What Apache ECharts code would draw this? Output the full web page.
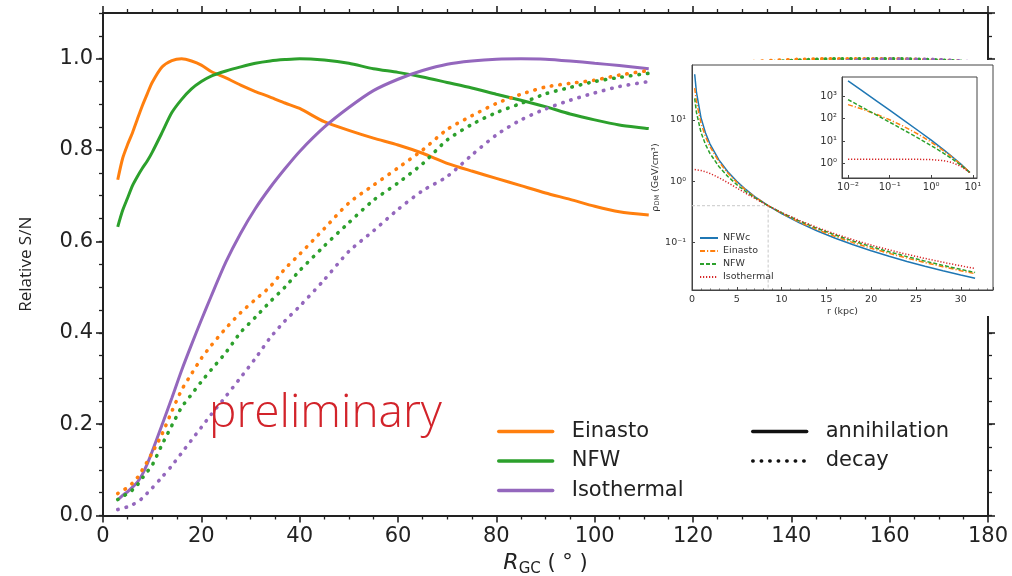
<!DOCTYPE html>
<html><head><meta charset="utf-8">
<script src="https://cdn.jsdelivr.net/npm/echarts@6/dist/echarts.min.js"></script>
<style>html,body{margin:0;padding:0;background:#fff}#c{width:1012px;height:576px}</style>
</head><body><div id="c"></div>
<script>
// ---------- main chart data (Relative S/N vs R_GC in degrees) ----------
const rAnn = [3,4,5,6,7,8,9,10,12,14,16,18,20,22,25,28,31,34,37,40,45,50,55,60,65,70,75,80,85,90,95,100,105,111];
const rDecay = [3,4,5,6,7,8,9,10,12,14,16,18,20,22,25,28,31,34,37,40,45,50,55,60,65,70,75,80,85,90,95,100,105,111,120,130,140,150,160,170,180];
const einastoAnn = [0.735,0.782,0.812,0.838,0.868,0.897,0.923,0.948,0.982,0.996,1.0,0.995,0.986,0.972,0.958,0.942,0.928,0.916,0.903,0.891,0.862,0.843,0.826,0.811,0.793,0.771,0.754,0.738,0.722,0.706,0.692,0.677,0.665,0.658];
const nfwAnn = [0.632,0.668,0.695,0.722,0.742,0.76,0.776,0.795,0.838,0.882,0.911,0.934,0.95,0.962,0.973,0.982,0.99,0.995,0.998,1.0,0.997,0.99,0.978,0.97,0.96,0.948,0.936,0.922,0.909,0.895,0.879,0.866,0.855,0.847];
const isoAnn = [0.034,0.044,0.052,0.062,0.073,0.09,0.113,0.14,0.198,0.257,0.318,0.374,0.428,0.48,0.555,0.618,0.672,0.718,0.759,0.797,0.85,0.893,0.93,0.955,0.974,0.988,0.995,0.999,1.0,0.999,0.995,0.99,0.985,0.978];
const einastoDec = [0.048,0.055,0.061,0.071,0.083,0.1,0.118,0.137,0.178,0.228,0.275,0.31,0.344,0.372,0.41,0.444,0.473,0.501,0.54,0.572,0.628,0.684,0.723,0.761,0.8,0.845,0.875,0.902,0.922,0.938,0.946,0.953,0.964,0.974,0.984,0.992,0.998,1.0,1.0,0.997,0.99];
const nfwDec = [0.035,0.042,0.048,0.056,0.067,0.082,0.096,0.11,0.155,0.197,0.237,0.265,0.293,0.319,0.357,0.401,0.434,0.468,0.5,0.536,0.59,0.641,0.69,0.728,0.77,0.822,0.856,0.882,0.902,0.923,0.937,0.95,0.959,0.968,0.978,0.988,0.996,1.0,1.0,0.997,0.99];
const isoDec = [0.013,0.016,0.019,0.024,0.029,0.038,0.049,0.06,0.084,0.109,0.137,0.165,0.193,0.221,0.261,0.302,0.344,0.389,0.426,0.458,0.516,0.578,0.623,0.67,0.711,0.742,0.789,0.833,0.866,0.89,0.909,0.925,0.939,0.95,0.964,0.977,0.987,0.995,0.999,0.998,0.99];
const profileNames = ['Einasto','NFW','Isothermal'];
const channelNames = ['annihilation','decay'];
const watermark = 'preliminary';

// ---------- inset data (rho_DM in GeV/cm^3 vs r in kpc) ----------
const rInset = [0.3,0.5,1,1.5,2,3,4,5,6,7,8.5,10,12,14,16,18,20,22,24,26,28,30,31.6];
const rhoNFWc = [55.1,27.86,10.86,6.16,4.075,2.231,1.428,0.997,0.736,0.565,0.4,0.297,0.21,0.155,0.118,0.0925,0.0739,0.0601,0.0496,0.0415,0.035,0.0299,0.0265];
const rhoEinasto = [32.9,19.5,8.89,5.37,3.673,2.083,1.359,0.962,0.718,0.556,0.4,0.301,0.216,0.1625,0.126,0.1002,0.0813,0.0671,0.0561,0.0475,0.0407,0.0351,0.0313];
const rhoNFW = [22.3,13.13,6.26,3.98,2.85,1.739,1.198,0.883,0.681,0.541,0.4,0.307,0.2246,0.1705,0.1331,0.1062,0.0863,0.0711,0.0594,0.0502,0.0428,0.0368,0.0328];
const rhoIso = [1.55,1.541,1.496,1.428,1.341,1.144,0.949,0.778,0.638,0.526,0.4,0.311,0.23,0.176,0.1384,0.1115,0.0915,0.0764,0.0647,0.0555,0.0481,0.0421,0.038];
const refLine = [[0,0.4],[8.5,0.4],[8.5,0.017]];
const rInner = [0.01,0.02,0.05,0.1,0.2,0.5,1,2,3,5,8.5];
const innerNFWc = [4687,1900,577,233.5,94.0,27.86,10.86,4.075,2.231,0.997,0.4];
const innerEinasto = [413,276,149.5,87.8,48.3,19.5,8.89,3.673,2.083,0.962,0.4];
const innerNFW = [689,344,137.3,68.3,33.8,13.13,6.26,2.85,1.739,0.883,0.4];
const innerIso = [1.556,1.556,1.556,1.555,1.554,1.541,1.496,1.341,1.144,0.778,0.4];
const insetNames = ['NFWc','Einasto','NFW','Isothermal'];

const pair = (xs, ys) => xs.map((x, i) => [x, ys[i]]);
const SUP = {'-':'\u207B','0':'\u2070','1':'\u00B9','2':'\u00B2','3':'\u00B3'};
const pow10 = v => '10' + String(Math.round(Math.log10(v))).split('').map(c => SUP[c]).join('');

const C = {orange:'#ff7f0e', green:'#2ca02c', purple:'#9467bd', blue:'#1f77b4', red:'#d62728', ink:'#222'};
const DOT = [0.5, 8];
const F = 'DejaVu Sans';

const chart = echarts.init(document.getElementById('c'), null, {renderer:'canvas'});

function mainX(pos, labels) {
  return {
    gridIndex: 0, type: 'value', position: pos, min: 0, max: 180, interval: 20,
    axisLine: {show: true, onZero: false, lineStyle: {color: C.ink, width: 2}},
    axisTick: {show: true, inside: false, length: 7, lineStyle: {color: C.ink, width: 1.6}},
    minorTick: {show: true, splitNumber: 4, length: 4, lineStyle: {color: C.ink, width: 1.3}},
    splitLine: {show: false}, minorSplitLine: {show: false},
    axisLabel: {show: labels, fontFamily: F, fontSize: 21, color: C.ink, margin: 11}
  };
}
function mainY(pos, major, labels) {
  return {
    gridIndex: 0, type: 'value', position: pos, min: 0, max: 1.1, interval: major ? 0.2 : 0.05,
    axisLine: {show: major, onZero: false, lineStyle: {color: C.ink, width: 2}},
    axisTick: {show: true, inside: false, length: major ? 7 : 4, lineStyle: {color: C.ink, width: major ? 1.6 : 1.3}},
    splitLine: {show: false},
    axisLabel: {show: labels, fontFamily: F, fontSize: 21, color: C.ink, margin: 10, showMaxLabel: false,
      formatter: v => v.toFixed(1)}
  };
}
const inkAxis = {lineStyle: {color: '#444', width: 1}};

const xAxes = [
  Object.assign(mainX('bottom', true), {
    name: '{i|R}{s|GC}{n| ( \u00B0 )}', nameLocation: 'middle', nameGap: 31,
    nameTextStyle: {rich: {
      i: {fontFamily: F, fontStyle: 'italic', fontSize: 22, color: C.ink, lineHeight: 26},
      s: {fontFamily: F, fontSize: 15, color: C.ink, lineHeight: 20, verticalAlign: 'bottom'},
      n: {fontFamily: F, fontSize: 21, color: C.ink, lineHeight: 26}
    }}
  }),
  mainX('top', false),
  {
    gridIndex: 1, type: 'value', min: 0, max: 33.6, interval: 5, z: 60,
    axisLine: Object.assign({show: true, onZero: false}, inkAxis),
    axisTick: {show: true, inside: true, length: 3, lineStyle: {color: '#444'}},
    minorTick: {show: true, splitNumber: 5, length: 1.5, lineStyle: {color: '#666'}},
    splitLine: {show: false},
    axisLabel: {fontFamily: F, fontSize: 9.5, color: '#333', margin: 5, showMaxLabel: false},
    name: 'r (kpc)', nameLocation: 'middle', nameGap: 17,
    nameTextStyle: {fontFamily: F, fontSize: 9.5, color: '#333'}
  },
  {
    gridIndex: 2, type: 'log', logBase: 10, min: 0.00716, max: 12.6, z: 60,
    axisLine: Object.assign({show: true, onZero: false}, inkAxis),
    axisTick: {show: true, inside: true, length: 3, lineStyle: {color: '#444'}},
    splitLine: {show: false},
    axisLabel: {fontFamily: F, fontSize: 10, color: '#333', margin: 4, showMinLabel: false, showMaxLabel: false, formatter: pow10}
  }
];
const yAxes = [
  Object.assign(mainY('left', true, true), {
    name: 'Relative S/N', nameLocation: 'middle', nameGap: 68, nameRotate: 90,
    nameTextStyle: {fontFamily: 'Open Sans', fontSize: 17, color: C.ink}
  }),
  mainY('left', false, false),
  mainY('right', true, false),
  mainY('right', false, false),
  {
    gridIndex: 1, type: 'log', logBase: 10, min: 0.017, max: 78, z: 60,
    axisLine: Object.assign({show: true, onZero: false}, inkAxis),
    axisTick: {show: true, inside: true, length: 3, lineStyle: {color: '#444'}},
    splitLine: {show: false},
    axisLabel: {fontFamily: F, fontSize: 9.5, color: '#333', margin: 6, showMinLabel: false, showMaxLabel: false, formatter: pow10},
    name: '{a|\u03C1}{s|DM} (GeV/cm\u00B3)', nameLocation: 'middle', nameGap: 28, nameRotate: 90,
    nameTextStyle: {rich: {
      a: {fontFamily: F, fontSize: 9.5, color: '#333', lineHeight: 12},
      s: {fontFamily: F, fontSize: 6.5, color: '#333', lineHeight: 9, verticalAlign: 'bottom'}
    }, fontFamily: F, fontSize: 9.5, color: '#333'}
  },
  {
    gridIndex: 2, type: 'log', logBase: 10, min: 0.229, max: 6918, z: 60,
    axisLine: Object.assign({show: true, onZero: false}, inkAxis),
    axisTick: {show: true, inside: true, length: 3, lineStyle: {color: '#444'}},
    splitLine: {show: false},
    axisLabel: {fontFamily: F, fontSize: 10, color: '#333', margin: 5, showMinLabel: false, showMaxLabel: false, formatter: pow10}
  }
];

function mainSeries(name, xs, ys, color, dotted) {
  return {
    name, type: 'line', xAxisIndex: 0, yAxisIndex: 0, data: pair(xs, ys),
    symbol: 'none', showSymbol: false, smooth: 0.25, z: 3, color,
    lineStyle: dotted ? {color, width: 3.6, type: DOT, cap: 'round'} : {color, width: 3},
    emphasis: {disabled: true}
  };
}
function insetSeries(name, xs, ys, color, type, xi, yi) {
  return {
    name, type: 'line', xAxisIndex: xi, yAxisIndex: yi, data: pair(xs, ys),
    symbol: 'none', showSymbol: false, z: 61, color,
    lineStyle: {color, width: 1.5, type}, emphasis: {disabled: true}
  };
}
const DASHDOT = [5, 2, 1.2, 2], DASH = [4, 2], IDOT = [1.2, 1.8];
const sfx = ' ';

const series = [
  mainSeries(profileNames[0], rAnn, einastoAnn, C.orange, false),
  mainSeries(profileNames[1], rAnn, nfwAnn, C.green, false),
  mainSeries(profileNames[2], rAnn, isoAnn, C.purple, false),
  mainSeries(profileNames[0] + ' decay', rDecay, einastoDec, C.orange, true),
  mainSeries(profileNames[1] + ' decay', rDecay, nfwDec, C.green, true),
  mainSeries(profileNames[2] + ' decay', rDecay, isoDec, C.purple, true),
  {name: channelNames[0], type: 'line', data: [], symbol: 'none', color: '#111', lineStyle: {color: '#111', width: 3}},
  {name: channelNames[1], type: 'line', data: [], symbol: 'none', color: '#111', lineStyle: {color: '#111', width: 3.6, type: DOT, cap: 'round'}},
  {name: 'ref', type: 'line', xAxisIndex: 2, yAxisIndex: 4, data: refLine, symbol: 'none', z: 60,
    lineStyle: {color: '#c8c8c8', width: 1, type: [3, 2]}, emphasis: {disabled: true}},
  insetSeries(insetNames[0] + sfx, rInset, rhoNFWc, C.blue, 'solid', 2, 4),
  insetSeries(insetNames[1] + sfx, rInset, rhoEinasto, C.orange, DASHDOT, 2, 4),
  insetSeries(insetNames[2] + sfx, rInset, rhoNFW, C.green, DASH, 2, 4),
  insetSeries(insetNames[3] + sfx, rInset, rhoIso, C.red, IDOT, 2, 4),
  insetSeries(insetNames[0] + sfx, rInner, innerNFWc, C.blue, 'solid', 3, 5),
  insetSeries(insetNames[1] + sfx, rInner, innerEinasto, C.orange, DASHDOT, 3, 5),
  insetSeries(insetNames[2] + sfx, rInner, innerNFW, C.green, DASH, 3, 5),
  insetSeries(insetNames[3] + sfx, rInner, innerIso, C.red, IDOT, 3, 5)
];

const mainLegendText = {fontFamily: F, fontSize: 21, color: C.ink, padding: [0, 0, 0, 14]};
const noSymbol = {color: 'rgba(0,0,0,0)', borderWidth: 0, opacity: 0};
const mainLegendLine = {width: 3.4, cap: 'round'};
chart.setOption({
  animation: false,
  backgroundColor: '#fff',
  grid: [
    {left: 103, right: 24, top: 13, bottom: 60.5, containLabel: false, outerBoundsMode: 'none'},
    {left: 692, right: 19, top: 65, bottom: 286, containLabel: false, outerBoundsMode: 'none',
      show: true, borderColor: '#444', borderWidth: 1, backgroundColor: 'transparent', z: 60},
    {left: 842, right: 35, top: 77, bottom: 398, containLabel: false, outerBoundsMode: 'none',
      show: true, borderColor: '#444', borderWidth: 1, backgroundColor: 'transparent', z: 60}
  ],
  xAxis: xAxes,
  yAxis: yAxes,
  legend: [
    {data: profileNames, orient: 'vertical', left: 497, top: 421, itemWidth: 54, itemHeight: 20, itemGap: 8.5,
      selectedMode: false, textStyle: mainLegendText, padding: 0, z: 40, itemStyle: noSymbol, lineStyle: mainLegendLine},
    {data: channelNames, orient: 'vertical', left: 751, top: 421, itemWidth: 54, itemHeight: 20, itemGap: 8.5,
      selectedMode: false, textStyle: mainLegendText, padding: 0, z: 40, itemStyle: noSymbol, lineStyle: mainLegendLine},
    {data: insetNames.map(n => n + sfx), formatter: n => n.trim(), orient: 'vertical', left: 699, top: 232,
      itemWidth: 18, itemHeight: 8, itemGap: 1, selectedMode: false, padding: 0, z: 62, itemStyle: noSymbol,
      textStyle: {fontFamily: F, fontSize: 9.5, color: '#333', lineHeight: 12}}
  ],
  graphic: {elements: [
    {type: 'rect', z: 50, silent: true, shape: {x: 650, y: 60, width: 347, height: 256}, style: {fill: '#fff'}},
    {type: 'text', z: 70, left: 209, top: 391, silent: true,
      style: {text: watermark, font: '300 46px "Open Sans"', fill: '#d2232a'}}
  ]},
  series
});
</script></body></html>
